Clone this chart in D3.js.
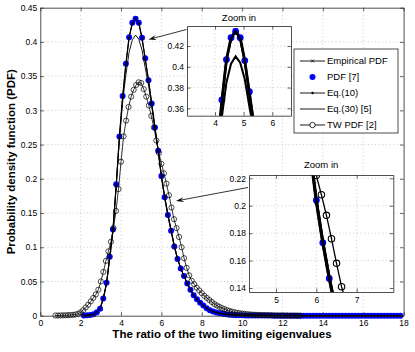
<!DOCTYPE html>
<html>
<head>
<meta charset="utf-8">
<script src="https://cdn.jsdelivr.net/npm/d3@7"></script>
<style>
  body { margin: 0; background: #fff; }
  svg text { font-family: "Liberation Sans", Arial, Helvetica, sans-serif; fill: #000; }
</style>
</head>
<body>
<div id="chart"></div>
<script>
// x positions shared by the empirical / reference / closed-form curves
var xGrid = [
  2.16, 2.32, 2.48, 2.64, 2.80, 2.96, 3.12, 3.28, 3.44, 3.60,
  3.76, 3.92, 4.08, 4.24, 4.40, 4.56, 4.72, 4.88, 5.04, 5.20,
  5.36, 5.52, 5.68, 5.84, 6.00, 6.16, 6.32, 6.48, 6.64, 6.80,
  6.96, 7.12, 7.28, 7.44, 7.60, 7.76, 7.92, 8.08, 8.24, 8.40,
  8.56, 8.72, 8.88, 9.04, 9.20, 9.36, 9.52, 9.68, 9.84, 10.00,
  10.16, 10.32, 10.48, 10.64, 10.80, 10.96, 11.12, 11.28, 11.44, 11.60,
  11.76, 11.92, 12.08, 12.24, 12.40, 12.56, 12.72, 12.88, 13.04, 13.20,
  13.36, 13.52, 13.68, 13.84, 14.00, 14.16, 14.32, 14.48, 14.64, 14.80,
  14.96, 15.12, 15.28, 15.44, 15.60, 15.76, 15.92, 16.08, 16.24, 16.40,
  16.56, 16.72, 16.88, 17.04, 17.20, 17.36, 17.52, 17.68, 17.84
];
var empiricalPdf = [
  0.0003, 0.0005, 0.001, 0.002, 0.005, 0.010, 0.025, 0.047, 0.085, 0.125,
  0.190, 0.262, 0.320, 0.368, 0.407, 0.428, 0.435, 0.428, 0.406, 0.375,
  0.344, 0.310, 0.275, 0.241, 0.203, 0.173, 0.147, 0.124, 0.101, 0.083,
  0.069, 0.058, 0.047, 0.038, 0.030, 0.024, 0.019, 0.015, 0.011, 0.008,
  0.006, 0.0045, 0.0035, 0.0027, 0.002, 0.0015, 0.0011, 0.0008, 0.0006, 0.0005,
  0.0004, 0.0004, 0.0003, 0.0003, 0.0003, 0.0002, 0.0002, 0.0002, 0.0002, 0.0001,
  0.0001, 0.0001, 0.0001, 0.0001, 0.0001, 0.0001, 0.0001, 0.0001, 0, 0,
  0, 0, 0, 0, 0, 0, 0, 0, 0, 0,
  0, 0, 0, 0, 0, 0, 0, 0, 0, 0,
  0, 0, 0, 0, 0, 0, 0, 0, 0
];
var pdfRef7 = [
  0.0003, 0.0005, 0.001, 0.002, 0.005, 0.010, 0.025, 0.048, 0.086, 0.126,
  0.192, 0.262, 0.321, 0.368, 0.407, 0.428, 0.434, 0.428, 0.406, 0.376,
  0.344, 0.310, 0.275, 0.241, 0.204, 0.173, 0.147, 0.124, 0.101, 0.083,
  0.069, 0.058, 0.047, 0.038, 0.030, 0.024, 0.019, 0.015, 0.011, 0.008,
  0.006, 0.0045, 0.0035, 0.0027, 0.002, 0.0015, 0.0011, 0.0008, 0.0006, 0.0005,
  0.0004, 0.0004, 0.0003, 0.0003, 0.0003, 0.0002, 0.0002, 0.0002, 0.0002, 0.0001,
  0.0001, 0.0001, 0.0001, 0.0001, 0.0001, 0.0001, 0.0001, 0.0001, 0, 0,
  0, 0, 0, 0, 0, 0, 0, 0, 0, 0,
  0, 0, 0, 0, 0, 0, 0, 0, 0, 0,
  0, 0, 0, 0, 0, 0, 0, 0, 0
];
var eq10Pdf = [
  0.0003, 0.0005, 0.001, 0.002, 0.005, 0.010, 0.025, 0.047, 0.085, 0.125,
  0.190, 0.261, 0.319, 0.367, 0.406, 0.427, 0.434, 0.427, 0.405, 0.375,
  0.344, 0.310, 0.275, 0.241, 0.203, 0.173, 0.147, 0.124, 0.101, 0.083,
  0.069, 0.058, 0.047, 0.038, 0.030, 0.024, 0.019, 0.015, 0.011, 0.008,
  0.006, 0.0045, 0.0035, 0.0027, 0.002, 0.0015, 0.0011, 0.0008, 0.0006, 0.0005,
  0.0004, 0.0004, 0.0003, 0.0003, 0.0003, 0.0002, 0.0002, 0.0002, 0.0002, 0.0001,
  0.0001, 0.0001, 0.0001, 0.0001, 0.0001, 0.0001, 0.0001, 0.0001, 0, 0,
  0, 0, 0, 0, 0, 0, 0, 0, 0, 0,
  0, 0, 0, 0, 0, 0, 0, 0, 0, 0,
  0, 0, 0, 0, 0, 0, 0, 0, 0
];
var eq30Pdf = [
  0.0003, 0.0005, 0.001, 0.002, 0.005, 0.010, 0.025, 0.047, 0.085, 0.125,
  0.190, 0.258, 0.312, 0.352, 0.385, 0.403, 0.410, 0.404, 0.388, 0.362,
  0.337, 0.306, 0.274, 0.242, 0.205, 0.175, 0.149, 0.126, 0.103, 0.084,
  0.069, 0.058, 0.047, 0.038, 0.030, 0.024, 0.019, 0.015, 0.011, 0.008,
  0.006, 0.0045, 0.0035, 0.0027, 0.002, 0.0015, 0.0011, 0.0008, 0.0006, 0.0005,
  0.0004, 0.0004, 0.0003, 0.0003, 0.0003, 0.0002, 0.0002, 0.0002, 0.0002, 0.0001,
  0.0001, 0.0001, 0.0001, 0.0001, 0.0001, 0.0001, 0.0001, 0.0001, 0, 0,
  0, 0, 0, 0, 0, 0, 0, 0, 0, 0,
  0, 0, 0, 0, 0, 0, 0, 0, 0, 0,
  0, 0, 0, 0, 0, 0, 0, 0, 0
];
// Tracy-Widom approximation
var twX = [
  0.750, 0.875, 1.000, 1.125, 1.250, 1.375, 1.500, 1.625, 1.750, 1.875,
  2.000, 2.125, 2.250, 2.375, 2.500, 2.625, 2.750, 2.875, 3.000, 3.125,
  3.250, 3.375, 3.500, 3.625, 3.750, 3.875, 4.000, 4.125, 4.250, 4.375,
  4.500, 4.625, 4.750, 4.875, 5.000, 5.125, 5.250, 5.375, 5.500, 5.625,
  5.750, 5.875, 6.000, 6.125, 6.250, 6.375, 6.500, 6.625, 6.750, 6.875,
  7.000, 7.125, 7.250, 7.375, 7.500, 7.625, 7.750, 7.875, 8.000, 8.125,
  8.250, 8.375, 8.500, 8.625, 8.750, 8.875, 9.000, 9.125, 9.250, 9.375,
  9.500, 9.625, 9.750, 9.875, 10.000, 10.125, 10.250, 10.375, 10.500, 10.625,
  10.750, 10.875, 11.000, 11.125, 11.250, 11.375, 11.500, 11.625, 11.750, 11.875,
  12.000, 12.125, 12.250, 12.375, 12.500, 12.625, 12.750, 12.875
];
var twPdf = [
  0.0003, 0.0003, 0.0004, 0.0005, 0.0006, 0.0008, 0.001, 0.0013, 0.0018, 0.0028,
  0.005, 0.008, 0.012, 0.016, 0.021, 0.026, 0.031, 0.038, 0.050, 0.064,
  0.080, 0.094, 0.108, 0.128, 0.153, 0.185, 0.225, 0.262, 0.285, 0.305,
  0.320, 0.330, 0.337, 0.341, 0.340, 0.331, 0.320, 0.307, 0.292, 0.275,
  0.256, 0.238, 0.222, 0.208, 0.193, 0.176, 0.158, 0.141, 0.128, 0.115,
  0.100, 0.084, 0.070, 0.059, 0.051, 0.046, 0.041, 0.037, 0.033, 0.029,
  0.026, 0.023, 0.020, 0.017, 0.015, 0.013, 0.011, 0.0095, 0.008, 0.007,
  0.006, 0.005, 0.0042, 0.0036, 0.003, 0.0026, 0.0022, 0.0019, 0.0016, 0.0014,
  0.0012, 0.001, 0.0009, 0.0008, 0.0007, 0.0006, 0.0005, 0.0005, 0.0004, 0.0004,
  0.0003, 0.0003, 0.0003, 0.0002, 0.0002, 0.0002, 0.0001, 0.0001
];
var xTicks = [0, 2, 4, 6, 8, 10, 12, 14, 16, 18];
var yTicks = [0, 0.05, 0.1, 0.15, 0.2, 0.25, 0.3, 0.35, 0.4, 0.45];
var zoom1XTicks = [4, 5, 6], zoom1YTicks = [0.36, 0.38, 0.4, 0.42];
var zoom2XTicks = [5, 6, 7], zoom2YTicks = [0.14, 0.16, 0.18, 0.2, 0.22];
var legendLabels = ["Empirical PDF", "PDF [7]", "Eq.(10)", "Eq.(30) [5]", "TW PDF [2]"];

var blue = "#0000ff";
var fontFam = '"Liberation Sans", Arial, Helvetica, sans-serif';

var margin = {top: 7.7, right: 11.4, bottom: 36.3, left: 40.3},
    width = 415 - margin.left - margin.right,
    height = 352 - margin.top - margin.bottom;

var svg = d3.select("#chart")
  .append("svg")
    .attr("width", 415)
    .attr("height", 352);

function fmt(d) { return d === 0 ? "0" : String(+d.toFixed(2)); }

// dotted grid lines at the given ticks
function drawFrame(g, sx, sy, w, h, xt, yt) {
  var grid = g.append("g").attr("stroke", "#b4b4b4").attr("stroke-width", 0.7)
    .attr("stroke-dasharray", "1,2.6");
  grid.selectAll(null).data(xt).enter().append("line")
    .attr("x1", function(d) { return sx(d); }).attr("x2", function(d) { return sx(d); })
    .attr("y1", 0).attr("y2", h);
  grid.selectAll(null).data(yt).enter().append("line")
    .attr("y1", function(d) { return sy(d); }).attr("y2", function(d) { return sy(d); })
    .attr("x1", 0).attr("x2", w);
}

// boxed axes, ticks pointing inward
function drawAxes(g, sx, sy, w, h, xt, yt, xfmt) {
  var ax = [
    g.append("g").attr("transform", "translate(0," + h + ")")
      .call(d3.axisBottom(sx).tickValues(xt).tickSizeInner(-3.5).tickSizeOuter(0).tickPadding(4.5).tickFormat(xfmt)),
    g.append("g")
      .call(d3.axisLeft(sy).tickValues(yt).tickSizeInner(-3.5).tickSizeOuter(0).tickPadding(3).tickFormat(fmt)),
    g.append("g")
      .call(d3.axisTop(sx).tickValues(xt).tickSizeInner(-3.5).tickSizeOuter(0).tickFormat("")),
    g.append("g").attr("transform", "translate(" + w + ",0)")
      .call(d3.axisRight(sy).tickValues(yt).tickSizeInner(-3.5).tickSizeOuter(0).tickFormat(""))
  ];
  ax.forEach(function(a) {
    a.attr("font-size", 8.5).attr("font-family", fontFam);
    a.select(".domain").attr("stroke", "#222").attr("stroke-width", 0.8);
    a.selectAll(".tick line").attr("stroke", "#222").attr("stroke-width", 0.7);
  });
}

function drawSeries(g, sx, sy, o) {
  var line = d3.line().x(function(d) { return sx(d[0]); }).y(function(d) { return sy(d[1]); });
  var emp = d3.zip(xGrid, empiricalPdf),
      ref = d3.zip(xGrid, pdfRef7),
      e10 = d3.zip(xGrid, eq10Pdf),
      e30 = d3.zip(xGrid, eq30Pdf),
      tw = d3.zip(twX, twPdf);

  g.append("path").datum(emp).attr("fill", "none").attr("stroke", "#000")
    .attr("stroke-width", o.lw * 1.2).attr("d", line);
  g.append("g").selectAll(null).data(emp).enter().append("path")
    .attr("d", function(d) {
      var cx = sx(d[0]), cy = sy(d[1]), m = o.xm;
      return "M" + (cx - m) + "," + (cy - m) + "L" + (cx + m) + "," + (cy + m) +
             "M" + (cx - m) + "," + (cy + m) + "L" + (cx + m) + "," + (cy - m);
    })
    .attr("stroke", "#000").attr("stroke-width", 0.8);

  g.append("g").selectAll(null).data(ref).enter().append("circle")
    .attr("cx", function(d) { return sx(d[0]); })
    .attr("cy", function(d) { return sy(d[1]); })
    .attr("r", o.dot).attr("fill", blue);

  g.append("path").datum(e10).attr("fill", "none").attr("stroke", "#000")
    .attr("stroke-width", o.lw).attr("d", line);
  g.append("g").selectAll(null).data(e10).enter().append("circle")
    .attr("cx", function(d) { return sx(d[0]); })
    .attr("cy", function(d) { return sy(d[1]); })
    .attr("r", 1).attr("fill", "#000");

  g.append("path").datum(e30).attr("fill", "none").attr("stroke", "#000")
    .attr("stroke-width", o.lw * 0.9).attr("d", line);

  g.append("path").datum(tw).attr("fill", "none").attr("stroke", "#000")
    .attr("stroke-width", o.tl).attr("d", line);
  g.append("g").selectAll(null).data(tw).enter().append("circle")
    .attr("cx", function(d) { return sx(d[0]); })
    .attr("cy", function(d) { return sy(d[1]); })
    .attr("r", o.circ).attr("fill", "none").attr("stroke", "#000").attr("stroke-width", o.cw);
}

// main axes
var g = svg.append("g").attr("transform", "translate(" + margin.left + "," + margin.top + ")");
var x = d3.scaleLinear().domain([0, 18]).range([0, width]);
var y = d3.scaleLinear().domain([0, 0.45]).range([height, 0]);
drawFrame(g, x, y, width, height, xTicks.slice(1, -1), yTicks.slice(1, -1));
drawSeries(g, x, y, {lw: 1, tl: 0.8, xm: 1.5, dot: 3, circ: 2.6, cw: 0.7});
drawAxes(g, x, y, width, height, xTicks, yTicks, d3.format("d"));

svg.append("text")
  .attr("x", margin.left + width / 2)
  .attr("y", 338)
  .attr("text-anchor", "middle")
  .style("font-size", "11.5px").style("font-weight", "bold")
  .text("The ratio of the two limiting eigenvalues");
svg.append("text")
  .attr("transform", "translate(15," + (margin.top + height / 2) + ")rotate(-90)")
  .attr("text-anchor", "middle")
  .style("font-size", "11.5px").style("font-weight", "bold")
  .text("Probability density function (PDF)");

// zoomed insets
function inset(id, left, top, right, bottom, xd, yd, xt, yt, titleY, opts) {
  var w = right - left, h = bottom - top;
  var ig = svg.append("g").attr("transform", "translate(" + left + "," + top + ")");
  var sx = d3.scaleLinear().domain(xd).range([0, w]);
  var sy = d3.scaleLinear().domain(yd).range([h, 0]);
  svg.append("clipPath").attr("id", id).append("rect").attr("width", w).attr("height", h);
  ig.append("rect").attr("width", w).attr("height", h).attr("fill", "#fff");
  drawFrame(ig, sx, sy, w, h, xt, yt);
  var inner = ig.append("g").attr("clip-path", "url(#" + id + ")");
  drawSeries(inner, sx, sy, opts);
  drawAxes(ig, sx, sy, w, h, xt, yt, d3.format("d"));
  ig.append("text").attr("x", w / 2).attr("y", titleY - top)
    .attr("text-anchor", "middle").style("font-size", "9.5px").text("Zoom in");
}
inset("clip1", 187, 26, 291, 115.7, [3.023, 6.653], [0.3529, 0.4393], zoom1XTicks, zoom1YTicks, 20.5,
  {lw: 2.3, tl: 1.3, xm: 2, dot: 3.4, circ: 3.2, cw: 1.1});
inset("clip2", 249, 175, 393.3, 292, [4.331, 7.907], [0.1371, 0.2224], zoom2XTicks, zoom2YTicks, 168,
  {lw: 2.6, tl: 1.3, xm: 2, dot: 3.4, circ: 3.2, cw: 1.1});

// legend
var lg = svg.append("g").attr("transform", "translate(294,49)");
lg.append("rect").attr("width", 104).attr("height", 84)
  .attr("fill", "#fff").attr("stroke", "#222").attr("stroke-width", 0.8);
var item = lg.selectAll(null).data(legendLabels).enter().append("g")
  .attr("transform", function(d, i) { return "translate(0," + (12 + i * 16) + ")"; });
item.append("text").attr("x", 33).attr("y", 3.4).style("font-size", "9.5px")
  .text(function(d) { return d; });
item.filter(function(d, i) { return i !== 1; }).append("line")
  .attr("x1", 6).attr("x2", 31).attr("stroke", "#000").attr("stroke-width", 0.9);
item.filter(function(d, i) { return i === 0; }).append("path")
  .attr("d", "M17,-1.5L20,1.5M17,1.5L20,-1.5").attr("stroke", "#000").attr("stroke-width", 0.8);
item.filter(function(d, i) { return i === 1; }).append("circle")
  .attr("cx", 18.5).attr("r", 3).attr("fill", blue);
item.filter(function(d, i) { return i === 2; }).append("circle")
  .attr("cx", 18.5).attr("r", 1.2).attr("fill", "#000");
item.filter(function(d, i) { return i === 4; }).append("circle")
  .attr("cx", 18.5).attr("r", 2.7).attr("fill", "#fff").attr("stroke", "#000").attr("stroke-width", 0.8);

// annotation arrows
function arrow(x1, y1, x2, y2) {
  var dx = x2 - x1, dy = y2 - y1, L = Math.hypot(dx, dy),
      ux = dx / L, uy = dy / L, px = -uy, py = ux, hl = 8, hw = 2.6;
  svg.append("line").attr("x1", x1).attr("y1", y1)
    .attr("x2", x2 - ux * 4).attr("y2", y2 - uy * 4)
    .attr("stroke", "#000").attr("stroke-width", 0.8);
  svg.append("path")
    .attr("d", "M" + x2 + "," + y2 +
      "L" + (x2 - ux * hl + px * hw) + "," + (y2 - uy * hl + py * hw) +
      "L" + (x2 - ux * hl * 0.6) + "," + (y2 - uy * hl * 0.6) +
      "L" + (x2 - ux * hl - px * hw) + "," + (y2 - uy * hl - py * hw) + "Z")
    .attr("fill", "#000");
}
arrow(186.5, 29.5, 148.5, 39.5);
arrow(248, 187.5, 176, 201);
</script>
</body>
</html>
